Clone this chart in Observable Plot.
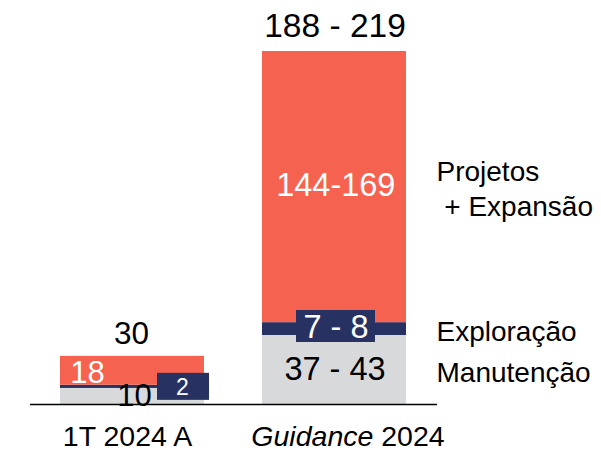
<!DOCTYPE html>
<html>
<head>
<meta charset="utf-8">
<script src="https://cdn.jsdelivr.net/npm/d3@7"></script>
<script src="https://cdn.jsdelivr.net/npm/@observablehq/plot@0.6"></script>
<style>
  html, body { margin: 0; padding: 0; background: #fff; }
  svg { font-family: "Liberation Sans", Arial, sans-serif; }
</style>
</head>
<body>
<div id="chart"></div>
<script>
// ---- data ----
const categories = ["1T 2024 A", "Guidance 2024"];
const segments = ["Manutenção", "Exploração", "Projetos + Expansão"];
const manutencao = [10, 43];
const exploracao = [2, 8];
const projetos = [18, 169];
const manutencaoLabels = ["10", "37 - 43"];
const exploracaoLabels = ["2", "7 - 8"];
const projetosLabels = ["18", "144-169"];
const totalLabels = ["30", "188 - 219"];
const legendLabels = ["Manutenção", "Exploração", "Projetos\n\u00a0+ Expansão"];
const colors = ["#D8D9DB", "#283262", "#F5624F"];

// ---- derived tables ----
const values = [manutencao, exploracao, projetos];
const labels = [manutencaoLabels, exploracaoLabels, projetosLabels];
const rows = categories.flatMap((cat, i) => {
  let acc = 0;
  return segments.map((seg, j) => {
    const v = values[j][i];
    const r = {cat, seg, j, value: v, y1: acc, y2: acc + v, mid: acc + v / 2, label: labels[j][i], legend: legendLabels[j]};
    acc += v;
    return r;
  });
});
const totals = categories.map((cat, i) => ({cat, i, total: d3.sum(values, s => s[i]), label: totalLabels[i]}));

const F = "Liberation Sans, Arial, sans-serif";
const seg = (j, i) => rows.filter(r => r.j === j && r.cat === categories[i]);

const chart = Plot.plot({
  width: 601,
  height: 451,
  marginLeft: 30,
  marginRight: 164,
  marginTop: 0,
  marginBottom: 47,
  x: {type: "band", domain: categories, range: [59, 407], paddingInner: 0.2857, paddingOuter: 0, axis: null},
  y: {domain: [0, 220], range: [404, 51], axis: null},
  color: {domain: segments, range: colors},
  marks: [
    Plot.barY(rows, {x: "cat", y1: "y1", y2: "y2", fill: "seg"}),
    // navy label boxes
    Plot.barY(seg(1, 0), {x: "cat", y1: "mid", y2: "mid", fill: colors[1], insetTop: -13.5, insetBottom: -13.5, insetLeft: 97, insetRight: -5}),
    Plot.barY(seg(1, 1), {x: "cat", y1: "mid", y2: "mid", fill: colors[1], insetTop: -18.6, insetBottom: -13.4, insetLeft: 34, insetRight: 31}),
    Plot.ruleY([0], {stroke: "#000", strokeWidth: 1.5}),
    // totals
    Plot.text(totals.filter(d => d.i === 0), {x: "cat", y: "total", text: "label", fontSize: 31.5, dy: -22, dx: -1, lineAnchor: "middle", fill: "#000", fontFamily: F}),
    Plot.text(totals.filter(d => d.i === 1), {x: "cat", y: "total", text: "label", fontSize: 33.5, dy: -25, dx: 0.5, lineAnchor: "middle", fill: "#000", fontFamily: F}),
    // projetos labels
    Plot.text(seg(2, 0), {x: "cat", y: "mid", text: "label", fontSize: 31, dx: -45, dy: 2, lineAnchor: "middle", fill: "#fff", fontFamily: F}),
    Plot.text(seg(2, 1), {x: "cat", y: "mid", text: "label", fontSize: 32.5, dx: 1.3, dy: -1, lineAnchor: "middle", fill: "#fff", fontFamily: F}),
    // exploracao labels
    Plot.text(seg(1, 0), {x: "cat", y: "mid", text: "label", fontSize: 23, dx: 50, dy: 1, lineAnchor: "middle", fill: "#fff", fontFamily: F}),
    Plot.text(seg(1, 1), {x: "cat", y: "mid", text: "label", fontSize: 32.5, dx: 1.5, dy: -1.6, lineAnchor: "middle", fill: "#fff", fontFamily: F}),
    // manutencao labels
    Plot.text(seg(0, 0), {x: "cat", y: "mid", text: "label", fontSize: 31, dx: 2, dy: 0, lineAnchor: "middle", fill: "#000", fontFamily: F}),
    Plot.text(seg(0, 1), {x: "cat", y: "mid", text: "label", fontSize: 32.5, dx: 0.5, dy: -0.5, lineAnchor: "middle", fill: "#000", fontFamily: F}),
    // legend labels on right
    Plot.text(rows.filter(r => r.cat === categories[1]), {x: "cat", y: "mid", text: "legend", fontSize: 28, dx: 102, dy: 0.5, textAnchor: "start", lineAnchor: "middle", lineHeight: 1.25, fill: "#000", fontFamily: F}),
    // category labels
    Plot.text([categories[0]], {x: d => d, frameAnchor: "bottom", text: d => d, fontSize: 28.5, dx: -5, dy: 32, lineAnchor: "middle", fill: "#000", fontFamily: F}),
    Plot.text([categories[1]], {x: d => d, frameAnchor: "bottom", text: d => d, fontSize: 28.5, dx: 13.5, dy: 32, lineAnchor: "middle", fill: "#000", fontFamily: F})
  ]
});

// italicise "Guidance" in the category label
chart.querySelectorAll("text").forEach(t => {
  if (t.textContent === "Guidance 2024" && t.children.length === 0) {
    t.textContent = "";
    const ts = document.createElementNS("http://www.w3.org/2000/svg", "tspan");
    ts.setAttribute("font-style", "italic");
    ts.textContent = "Guidance";
    t.appendChild(ts);
    t.appendChild(document.createTextNode(" 2024"));
  }
});

document.getElementById("chart").appendChild(chart);
</script>
</body>
</html>
